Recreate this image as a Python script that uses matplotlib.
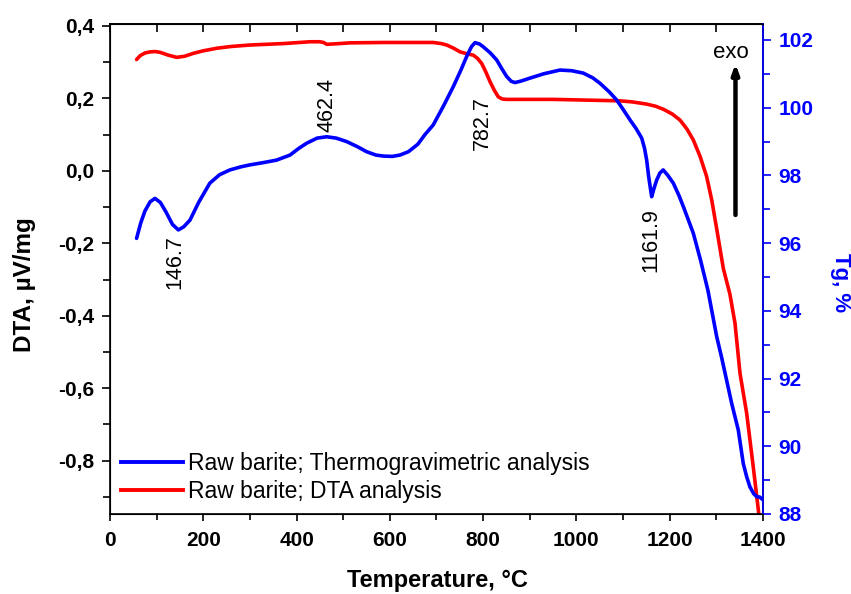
import matplotlib
matplotlib.use("Agg")
import matplotlib.pyplot as plt
from matplotlib.ticker import MultipleLocator, FuncFormatter
from matplotlib.lines import Line2D

plt.rcParams['font.family'] = ['Liberation Sans', 'DejaVu Sans']

# Blue series (right axis, Tg %)
tg_T = [57, 66, 75, 86, 96.5, 108, 120, 134, 146.5, 158, 171.5, 190, 214, 235, 257, 280, 300, 330,
        357, 386, 405, 421.7, 444, 464.6, 485, 507, 530, 550, 570, 586, 605, 621.7, 640, 660,
        675, 693, 715, 736, 752, 764.7, 775, 782.5, 792, 800, 815, 829, 840, 850.5, 860, 868,
        880, 900, 930, 964.8, 990, 1014.7, 1035, 1050.5, 1070, 1086, 1100, 1114.8, 1128, 1140,
        1146, 1150.6, 1155, 1161.3, 1166, 1172, 1179, 1186, 1196, 1207.7, 1220, 1230, 1250.6,
        1266, 1282, 1300.7, 1311, 1322, 1332.8, 1347, 1357.7, 1365, 1372, 1380, 1386.5, 1393, 1400]
tg_V = [96.14, 96.6, 96.95, 97.22, 97.32, 97.2, 96.92, 96.55, 96.39, 96.48, 96.68, 97.2, 97.77,
        98.02, 98.16, 98.25, 98.31, 98.38, 98.45, 98.6, 98.8, 98.95, 99.1, 99.14, 99.1, 99.0,
        98.85, 98.70, 98.6, 98.57, 98.56, 98.6, 98.7, 98.92, 99.2, 99.49, 100.05, 100.62, 101.1,
        101.51, 101.8, 101.92, 101.88, 101.80, 101.62, 101.41, 101.15, 100.92, 100.78, 100.74,
        100.78, 100.87, 101.0, 101.11, 101.09, 101.02, 100.88, 100.72, 100.47, 100.23, 99.95,
        99.64, 99.38, 99.10, 98.8, 98.45, 97.95, 97.37, 97.6, 97.86, 98.07, 98.16, 98.0, 97.77,
        97.4, 97.05, 96.29, 95.5, 94.6, 93.24, 92.64, 91.95, 91.27, 90.48, 89.49, 89.1, 88.80,
        88.6, 88.51, 88.5, 88.42]

# Red series (left axis, DTA)
dta_T = [57, 65, 75, 85.8, 97, 107, 125, 143, 160, 178.6, 200, 228.7, 260, 300, 371.5, 428.8, 450,
         458, 464.6, 480, 514.5, 586, 693, 710, 722, 737, 750.6, 765, 779, 788, 797, 806, 814.7,
         824, 832.5, 841, 850.5, 950.4, 1022, 1093, 1120, 1150.6, 1170, 1186, 1205, 1222, 1237,
         1250.6, 1265, 1279, 1290, 1300.7, 1315, 1329, 1340, 1350.7, 1365, 1379, 1390, 1395]
dta_V = [0.307, 0.318, 0.325, 0.328, 0.329, 0.327, 0.319, 0.313, 0.316, 0.324, 0.331, 0.338, 0.343,
         0.347, 0.351, 0.356, 0.356, 0.354, 0.349, 0.350, 0.353, 0.354, 0.354, 0.351, 0.347,
         0.338, 0.328, 0.323, 0.319, 0.310, 0.296, 0.272, 0.246, 0.222, 0.204, 0.198, 0.197,
         0.197, 0.195, 0.193, 0.190, 0.184, 0.178, 0.170, 0.157, 0.140, 0.115, 0.085, 0.040,
         -0.015, -0.080, -0.160, -0.270, -0.340, -0.421, -0.559, -0.669, -0.816, -0.936, -0.99]

peak_labels = ["146.7", "462.4", "782.7", "1161.9"]
peak_T = [139.4, 465, 797.5, 1160]
peak_V = [95.44, 100.08, 99.55, 96.09]   # label centres in Tg units

leg_labels = ["Raw barite; Thermogravimetric analysis", "Raw barite; DTA analysis"]
BLUE = '#0000ff'
RED = '#ff0000'

fig = plt.figure(figsize=(8.51, 5.94), dpi=100)
ax = fig.add_axes([110/851, 1-514/594, (763-110)/851, (514-24)/594])
ax2 = ax.twinx()

ax.plot(dta_T, dta_V, color=RED, lw=2.6, solid_capstyle='round', solid_joinstyle='round')
ax2.plot(tg_T, tg_V, color=BLUE, lw=2.6, solid_capstyle='round', solid_joinstyle='round')

ax.set_xlim(0, 1400)
ax.set_ylim(-0.947, 0.405)
ax2.set_ylim(88, 102.47)

ax.xaxis.set_major_locator(MultipleLocator(200))
ax.xaxis.set_minor_locator(MultipleLocator(100))
ax.yaxis.set_major_locator(MultipleLocator(0.2))
ax.yaxis.set_minor_locator(MultipleLocator(0.1))
ax2.yaxis.set_major_locator(MultipleLocator(2))
ax2.yaxis.set_minor_locator(MultipleLocator(1))

ax.yaxis.set_major_formatter(FuncFormatter(lambda v, p: f"{v:.1f}".replace('.', ',').replace('-0,0', '0,0')))

ax.tick_params(axis='x', which='both', direction='out', length=5, width=1.2, pad=7)
ax.tick_params(axis='y', which='both', direction='out', length=6, width=1.2, pad=5)
ax.tick_params(axis='x', which='minor', length=4)
ax.tick_params(axis='y', which='minor', length=5)
for lab in ax.get_xticklabels() + ax.get_yticklabels():
    lab.set_fontsize(15); lab.set_fontweight('bold')
ax2.tick_params(axis='y', which='both', direction='out', length=6, width=1.2, pad=5,
                colors=BLUE, labelcolor=BLUE)
ax2.tick_params(axis='y', which='minor', length=5)
for lab in ax2.get_yticklabels():
    lab.set_fontsize(15); lab.set_fontweight('bold')

for s in ax.spines.values():
    s.set_linewidth(1.2)
ax2.spines['right'].set_color(BLUE)
ax2.spines['right'].set_linewidth(1.2)

sec = ax.secondary_xaxis('top')
sec.xaxis.set_major_locator(MultipleLocator(100))
sec.tick_params(axis='x', direction='in', length=6, width=1.2, labeltop=False)
sec.spines['top'].set_linewidth(1.2)

for lbl, t, v in zip(peak_labels, peak_T, peak_V):
    ax2.text(t, v, lbl, rotation=90, ha='center', va='center', fontsize=15.5)

ax2.annotate('', xy=(1341, 101.3), xytext=(1341, 96.83),
             arrowprops=dict(arrowstyle='-|>,head_length=0.55,head_width=0.2', color='black', lw=3.2,
                             shrinkA=0, shrinkB=0))
ax2.text(1331, 101.62, 'exo', ha='center', va='center', fontsize=16)

handles = [Line2D([], [], color=BLUE, lw=2.8), Line2D([], [], color=RED, lw=2.8)]
ax2.legend(handles, leg_labels, loc='lower left', bbox_to_anchor=(-0.009, -0.012), frameon=False,
           fontsize=16.5, handlelength=2.7, handletextpad=0.22, labelspacing=0.23, borderaxespad=0.34)

fig.text(437/851, 1-581/594, 'Temperature, °C', ha='center', va='center', fontsize=17, fontweight='bold')
fig.text(24/851, 1-285/594, 'DTA, µV/mg', ha='center', va='center', rotation=90, fontsize=17.5, fontweight='bold')
fig.text(840/851, 1-283/594, 'Tg, %', ha='center', va='center', rotation=270, fontsize=16,
         fontweight='bold', color=BLUE)

fig.savefig('out.png', dpi=100)
